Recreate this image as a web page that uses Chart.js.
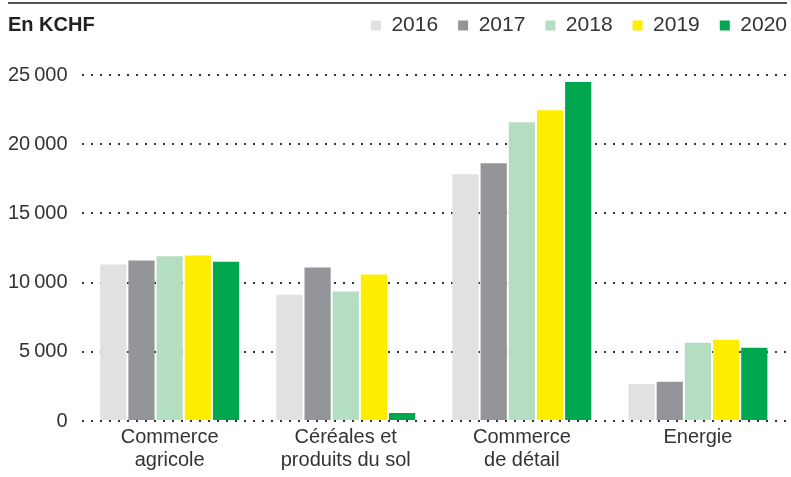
<!DOCTYPE html>
<html>
<head>
<meta charset="utf-8">
<script src="https://cdn.jsdelivr.net/npm/chart.js@4/dist/chart.umd.min.js"></script>
<style>
  html, body { margin: 0; padding: 0; background: #fff; }
  #wrap { position: relative; width: 791px; height: 477px; }
  #topline { position: absolute; left: 8px; top: 2px; width: 779px; border-top: 2px solid #555; }
  #title { position: absolute; left: 8px; top: 13px; margin: 0; font: bold 20px 'Liberation Sans', Arial, sans-serif; color: #222; }
</style>
</head>
<body>
<div id="wrap">
  <div id="topline"></div>
  <h2 id="title">En KCHF</h2>
  <canvas id="chart" width="791" height="477"></canvas>
</div>
<script>
const categories = [['Commerce', 'agricole'], ['Céréales et', 'produits du sol'], ['Commerce', 'de détail'], ['Energie']];
const years = ['2016', '2017', '2018', '2019', '2020'];
const colors = ['#e0e1e3', '#949599', '#b3dec2', '#ffed00', '#00a650'];
const values2016 = [11300, 9130, 17830, 2680];
const values2017 = [11600, 11090, 18620, 2830];
const values2018 = [11900, 9350, 21590, 5650];
const values2019 = [11950, 10580, 22460, 5870];
const values2020 = [11500, 580, 24490, 5290];
const series = [values2016, values2017, values2018, values2019, values2020];
const yTicks = [0, 5000, 10000, 15000, 20000, 25000];

const fontFamily = "'Liberation Sans', Arial, sans-serif";
const legendPad = 20;

// leave room under the legend, and push it flush right
const legendTweak = {
  id: 'legendTweak',
  beforeInit(chart) {
    const fit = chart.legend.fit;
    chart.legend.fit = function () {
      fit.call(this);
      this.height += 29;
    };
  },
  afterLayout(chart) {
    chart.legend.right += legendPad + 1;
  }
};

const ctx = document.getElementById('chart').getContext('2d');
new Chart(ctx, {
  type: 'bar',
  data: {
    labels: categories,
    datasets: series.map((vals, i) => ({
      label: years[i],
      data: vals,
      backgroundColor: colors[i],
      borderWidth: 0,
      categoryPercentage: 0.8,
      barPercentage: 0.93
    }))
  },
  options: {
    responsive: false,
    animation: false,
    layout: { padding: { top: -5, right: 5, left: -6, bottom: 0 } },
    plugins: {
      tooltip: { enabled: false },
      legend: {
        position: 'top',
        align: 'end',
        labels: {
          boxWidth: 10,
          boxHeight: 10,
          padding: legendPad,
          color: '#333',
          font: { family: fontFamily, size: 21 }
        }
      }
    },
    scales: {
      x: {
        grid: { display: false, drawTicks: false },
        border: { display: false },
        ticks: {
          color: '#333',
          padding: 5,
          maxRotation: 0,
          font: { family: fontFamily, size: 20, lineHeight: 1.15 }
        }
      },
      y: {
        min: 0,
        max: 25000,
        afterBuildTicks: (axis) => { axis.ticks = yTicks.map(v => ({ value: v })); },
        grid: { color: '#333', lineWidth: 2, drawTicks: false },
        border: { display: false, dash: [2, 7] },
        ticks: {
          color: '#333',
          padding: 14,
          font: { family: fontFamily, size: 20 },
          callback: (v) => v >= 1000 ? Math.floor(v / 1000) + '\u2009' + String(v % 1000).padStart(3, '0') : String(v)
        }
      }
    }
  },
  plugins: [legendTweak]
});
</script>
</body>
</html>
